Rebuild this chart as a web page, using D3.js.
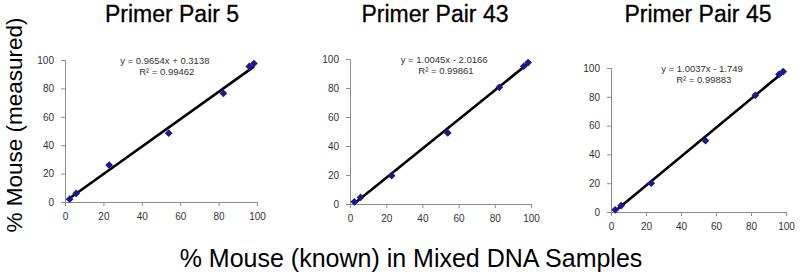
<!DOCTYPE html>
<html>
<head>
<meta charset="utf-8">
<script src="https://cdn.jsdelivr.net/npm/d3@7"></script>
<style>
  html, body { margin: 0; padding: 0; background: #fff; }
  svg { display: block; font-family: "Liberation Sans", Arial, sans-serif; }
</style>
</head>
<body>
<div id="chart"></div>
<script>
// same samples in every panel: % mouse known
const knownPct = [2.4, 5.8, 23, 54, 82.5, 96, 98.4];

const titles = ["Primer Pair 5", "Primer Pair 43", "Primer Pair 45"];
const measured5 = [2, 6, 26, 48.5, 76.5, 95.5, 97.5];
const measured43 = [1.5, 4.5, 19.5, 49, 80.5, 95, 97.5];
const measured45 = [1.5, 4.5, 20, 49.5, 81, 95.5, 97.5];

// trendline coefficients as printed on the chart
const slopes = [0.9654, 1.0045, 1.0037];
const intercepts = [0.3138, -2.0166, -1.749];
const eqLabels = ["y = 0.9654x + 0.3138", "y = 1.0045x - 2.0166", "y = 1.0037x - 1.749"];
const r2Labels = ["R\u00b2 = 0.99462", "R\u00b2 = 0.99861", "R\u00b2 = 0.99883"];

const tickValues = [0, 20, 40, 60, 80, 100];

const measuredAll = [measured5, measured43, measured45];

// plot boxes for the three panels
const boxes = [
  { left: 65, right: 257, bottom: 202, top: 60, titleX: 172 },
  { left: 350, right: 531, bottom: 204, top: 59, titleX: 435 },
  { left: 611, right: 786, bottom: 212, top: 68, titleX: 698 }
];

const width = 800, height = 277;
const svg = d3.select("#chart").append("svg")
  .attr("width", width)
  .attr("height", height);

const axisColor = "#8c8c8c";
const labelColor = "#333";

boxes.forEach((b, i) => {
  const x = d3.scaleLinear().domain([0, 100]).range([b.left, b.right]);
  const y = d3.scaleLinear().domain([0, 100]).range([b.bottom, b.top]);

  svg.append("text")
    .attr("x", b.titleX)
    .attr("y", 22)
    .attr("text-anchor", "middle")
    .attr("font-size", 23)
    .attr("fill", "#000")
    .attr("stroke", "#000")
    .attr("stroke-width", 0.3)
    .text(titles[i]);

  const xAxis = svg.append("g")
    .attr("transform", `translate(0,${b.bottom})`)
    .call(d3.axisBottom(x).tickValues(tickValues).tickSize(4).tickSizeOuter(4).tickPadding(7));
  const yAxis = svg.append("g")
    .attr("transform", `translate(${b.left},0)`)
    .call(d3.axisLeft(y).tickValues(tickValues).tickSize(4).tickSizeOuter(4).tickPadding(7));

  [xAxis, yAxis].forEach(g => {
    g.select(".domain").attr("stroke", axisColor);
    g.selectAll(".tick line").attr("stroke", axisColor);
    g.selectAll(".tick text")
      .attr("fill", labelColor)
      .attr("font-size", 10)
      .attr("font-family", "'Liberation Sans', Arial, sans-serif");
  });
  // the x axis line starts at the y axis
  xAxis.select(".tick line").remove();

  const pts = knownPct.map((k, j) => ({ k, m: measuredAll[i][j] }));

  const xMin = d3.min(knownPct), xMax = d3.max(knownPct);
  svg.append("line")
    .attr("x1", x(xMin))
    .attr("y1", y(slopes[i] * xMin + intercepts[i]))
    .attr("x2", x(xMax))
    .attr("y2", y(slopes[i] * xMax + intercepts[i]))
    .attr("stroke", "#000")
    .attr("stroke-width", 2.6);

  svg.append("g").selectAll("path")
    .data(pts)
    .join("path")
    .attr("d", d3.symbol(d3.symbolSquare, 30))
    .attr("transform", d => `translate(${x(d.k)},${y(d.m)}) rotate(45)`)
    .attr("fill", "#1a1a8c");

  const eq = svg.append("text")
    .attr("text-anchor", "middle")
    .attr("font-size", 9.5)
    .attr("fill", labelColor);
  eq.append("tspan")
    .attr("x", x(52))
    .attr("y", y(100) + 3.5)
    .text(eqLabels[i]);
  eq.append("tspan")
    .attr("x", x(53))
    .attr("y", y(100) + 15)
    .text(r2Labels[i]);
});

svg.append("text")
  .attr("x", 411)
  .attr("y", 267)
  .attr("text-anchor", "middle")
  .attr("font-size", 25)
  .attr("fill", "#000")
  .text("% Mouse (known) in Mixed DNA Samples");

svg.append("text")
  .attr("transform", "translate(14,125) rotate(-90)")
  .attr("dy", "0.35em")
  .attr("text-anchor", "middle")
  .attr("font-size", 22.5)
  .attr("fill", "#000")
  .text("% Mouse (measured)");
</script>
</body>
</html>
